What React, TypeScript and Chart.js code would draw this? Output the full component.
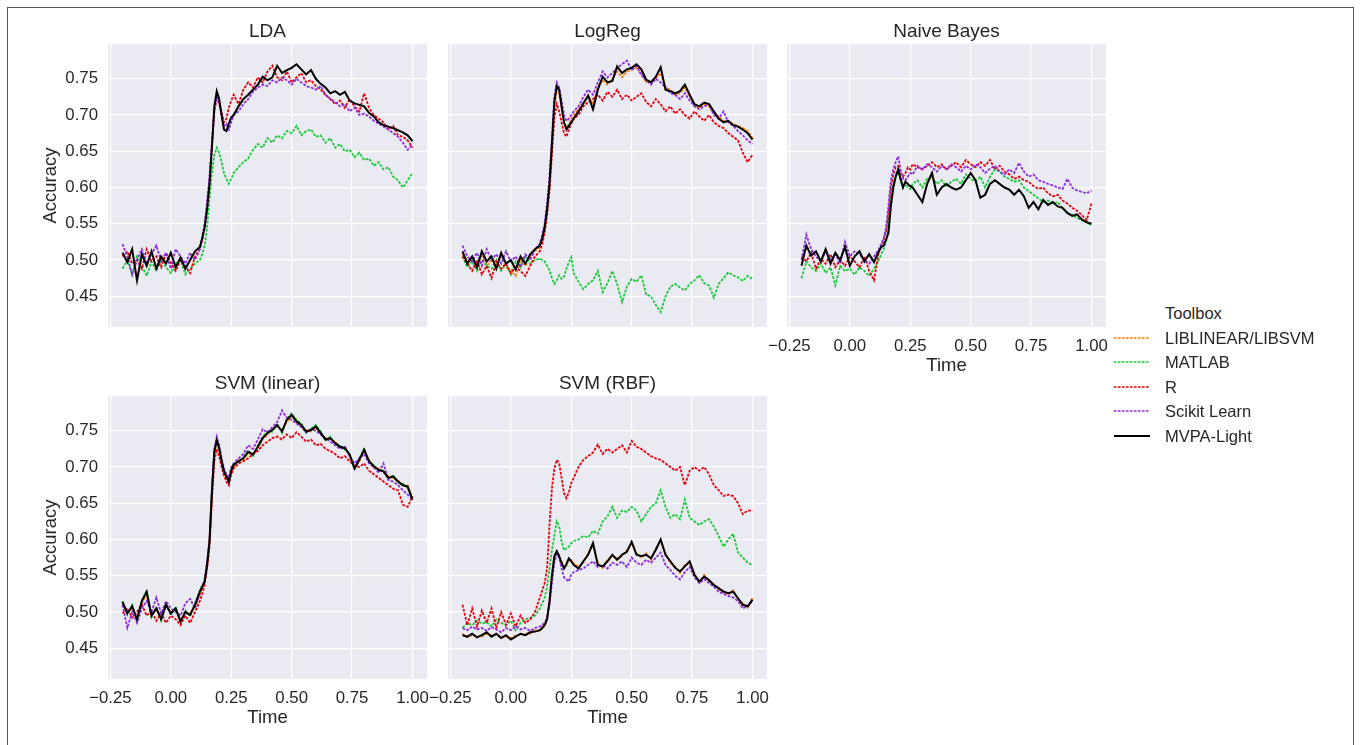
import React, { useEffect, useRef } from "react";
import { Chart, registerables } from "chart.js";
Chart.register(...registerables);

const FONT = "'Liberation Sans', Arial, Helvetica, sans-serif";
const TEXT = "#262626";

const TIME = [
  -0.2, -0.18, -0.16, -0.14, -0.12, -0.1, -0.08, -0.06, -0.04, -0.02, 0, 0.02, 0.04, 0.06, 0.08, 0.1, 0.12,
  0.13, 0.14, 0.15, 0.16, 0.17, 0.18, 0.19, 0.2, 0.21, 0.22, 0.23, 0.24, 0.25,
  0.26, 0.28, 0.3, 0.32, 0.34, 0.36, 0.38, 0.4, 0.42, 0.44, 0.46, 0.48, 0.5, 0.52, 0.54, 0.56, 0.58, 0.6,
  0.62, 0.64, 0.66, 0.68, 0.7, 0.72, 0.74, 0.76, 0.78, 0.8, 0.82, 0.84, 0.86, 0.88, 0.9, 0.92, 0.94, 0.96, 0.98, 1.0,
];

const TOOLBOXES = ["LIBLINEAR/LIBSVM", "MATLAB", "R", "Scikit Learn", "MVPA-Light"];
const COLORS = ["#ff7c00", "#1ac938", "#e8000b", "#8b2be2", "#000000"];
const X_TICKS = [-0.25, 0, 0.25, 0.5, 0.75, 1.0];
const Y_TICKS = [0.45, 0.5, 0.55, 0.6, 0.65, 0.7, 0.75];

// ---------- LDA ----------
const LDA_MATLAB = [
  0.488, 0.5, 0.48, 0.505, 0.492, 0.478, 0.498, 0.485, 0.5, 0.49, 0.482, 0.495, 0.5, 0.48, 0.488, 0.495, 0.5,
  0.508, 0.52, 0.545, 0.585, 0.62, 0.645, 0.655, 0.648, 0.635, 0.62, 0.612, 0.605, 0.612,
  0.62, 0.628, 0.635, 0.64, 0.652, 0.66, 0.655, 0.668, 0.662, 0.672, 0.668, 0.678, 0.675, 0.685, 0.672, 0.678, 0.68, 0.67, 0.672, 0.662, 0.668, 0.655, 0.66, 0.65, 0.652, 0.642, 0.648, 0.638, 0.64, 0.63, 0.635, 0.625, 0.628, 0.615, 0.61, 0.6, 0.61, 0.62,
];
const LDA_R = [
  0.505, 0.512, 0.495, 0.5, 0.488, 0.515, 0.498, 0.505, 0.49, 0.51, 0.496, 0.485, 0.5, 0.492, 0.482, 0.505, 0.515,
  0.528, 0.548, 0.575, 0.61, 0.66, 0.705, 0.725, 0.715, 0.705, 0.69, 0.695, 0.71, 0.72,
  0.728, 0.715, 0.735, 0.745, 0.738, 0.752, 0.745, 0.76, 0.768, 0.752, 0.748, 0.76, 0.745, 0.752, 0.758, 0.745, 0.748, 0.74, 0.735, 0.728, 0.722, 0.715, 0.72, 0.71, 0.722, 0.712, 0.705, 0.73, 0.71, 0.7, 0.695, 0.69, 0.68, 0.685, 0.672, 0.67, 0.665, 0.655,
];
const LDA_SKLEARN = [
  0.522, 0.505, 0.48, 0.5, 0.515, 0.495, 0.508, 0.52, 0.498, 0.51, 0.488, 0.515, 0.505, 0.495, 0.51, 0.5, 0.515,
  0.532, 0.55, 0.58, 0.615, 0.66, 0.705, 0.725, 0.718, 0.7, 0.685, 0.688, 0.68, 0.69,
  0.7, 0.705, 0.715, 0.722, 0.732, 0.738, 0.742, 0.74, 0.748, 0.745, 0.752, 0.748, 0.742, 0.75, 0.745, 0.74, 0.738, 0.735, 0.74, 0.728, 0.722, 0.718, 0.712, 0.715, 0.705, 0.71, 0.7, 0.702, 0.698, 0.692, 0.688, 0.684, 0.68, 0.675, 0.67, 0.662, 0.652, 0.66,
];
const LDA_MVPA = [
  0.51, 0.497, 0.515, 0.472, 0.508, 0.492, 0.512, 0.488, 0.505, 0.495, 0.51, 0.49, 0.503, 0.488, 0.5, 0.512, 0.518,
  0.53, 0.545, 0.57, 0.605, 0.655, 0.712, 0.733, 0.722, 0.7, 0.68, 0.678, 0.688, 0.697,
  0.7, 0.712, 0.722, 0.728, 0.735, 0.742, 0.753, 0.748, 0.752, 0.768, 0.758, 0.762, 0.765, 0.77, 0.763, 0.756, 0.762, 0.75, 0.743, 0.738, 0.73, 0.733, 0.728, 0.732, 0.72, 0.716, 0.714, 0.712, 0.703, 0.698, 0.69, 0.686, 0.684, 0.682, 0.679, 0.676, 0.672, 0.664,
];

// ---------- LogReg ----------
const LR_LIBLINEAR = [
  0.508, 0.5, 0.498, 0.495, 0.505, 0.492, 0.5, 0.495, 0.505, 0.49, 0.485, 0.478, 0.5, 0.492, 0.505, 0.512, 0.518,
  0.528, 0.542, 0.568, 0.602, 0.655, 0.712, 0.735, 0.73, 0.71, 0.69, 0.683, 0.688, 0.695,
  0.7, 0.708, 0.718, 0.725, 0.715, 0.738, 0.748, 0.742, 0.75, 0.76, 0.752, 0.76, 0.762, 0.765, 0.758, 0.745, 0.748, 0.75, 0.758, 0.738, 0.735, 0.728, 0.73, 0.738, 0.725, 0.712, 0.71, 0.714, 0.712, 0.702, 0.698, 0.692, 0.69, 0.688, 0.685, 0.682, 0.678, 0.668,
];
const LR_MATLAB = [
  0.505, 0.49, 0.498, 0.485, 0.5, 0.492, 0.488, 0.5, 0.485, 0.495, 0.48, 0.498, 0.49, 0.505, 0.495, 0.5, 0.502,
  0.5, 0.498, 0.492, 0.486, 0.475, 0.467, 0.472, 0.479, 0.474, 0.477, 0.488, 0.497, 0.504,
  0.482, 0.47, 0.46, 0.467, 0.472, 0.485, 0.456, 0.468, 0.485, 0.467, 0.442, 0.463, 0.474, 0.47, 0.479, 0.452, 0.45, 0.438, 0.428, 0.45, 0.463, 0.467, 0.462, 0.458, 0.467, 0.472, 0.479, 0.468, 0.465, 0.448, 0.467, 0.475, 0.483, 0.479, 0.476, 0.471, 0.478, 0.474,
];
const LR_R = [
  0.505, 0.495, 0.485, 0.5, 0.48, 0.492, 0.475, 0.498, 0.488, 0.495, 0.482, 0.49, 0.485, 0.478, 0.492, 0.505, 0.512,
  0.522, 0.538, 0.562, 0.595, 0.645, 0.695, 0.715, 0.705, 0.69, 0.675, 0.67, 0.68, 0.688,
  0.695, 0.7, 0.712, 0.718, 0.722, 0.728, 0.72, 0.732, 0.725, 0.735, 0.722, 0.728, 0.72, 0.725, 0.73, 0.718, 0.712, 0.722, 0.715, 0.705, 0.712, 0.702, 0.708, 0.7, 0.695, 0.705, 0.698, 0.692, 0.7, 0.69, 0.685, 0.682, 0.675, 0.67, 0.665, 0.648, 0.635, 0.645,
];
const LR_SKLEARN = [
  0.52, 0.505, 0.498, 0.51, 0.492, 0.515, 0.5, 0.508, 0.495, 0.512, 0.498, 0.505, 0.49, 0.508, 0.5, 0.515, 0.522,
  0.535, 0.55, 0.578, 0.615, 0.668, 0.725, 0.745, 0.738, 0.72, 0.7, 0.692, 0.695, 0.7,
  0.705, 0.712, 0.725, 0.735, 0.728, 0.745, 0.76, 0.752, 0.758, 0.765, 0.77, 0.775, 0.762, 0.768, 0.755, 0.748, 0.742, 0.75, 0.745, 0.738, 0.73, 0.728, 0.722, 0.73, 0.72, 0.712, 0.708, 0.712, 0.715, 0.7, 0.695, 0.705, 0.69, 0.685, 0.678, 0.672, 0.665, 0.66,
];
const LR_MVPA = [
  0.512, 0.495, 0.505, 0.49, 0.512, 0.498, 0.505, 0.488, 0.51, 0.495, 0.5, 0.487, 0.505, 0.495, 0.508, 0.515, 0.52,
  0.53, 0.545, 0.57, 0.605, 0.66, 0.718, 0.74, 0.735, 0.712, 0.69, 0.68, 0.685, 0.69,
  0.695, 0.705, 0.716, 0.727, 0.708, 0.735, 0.753, 0.745, 0.747, 0.767, 0.758, 0.763, 0.765, 0.77, 0.763, 0.749, 0.745, 0.753, 0.766, 0.735, 0.733, 0.73, 0.733, 0.742, 0.728, 0.715, 0.712, 0.717, 0.715, 0.705, 0.695, 0.69, 0.692, 0.686, 0.684, 0.68, 0.675, 0.666,
];

// ---------- Naive Bayes ----------
const NB_MATLAB = [
  0.475, 0.498, 0.49, 0.485, 0.495, 0.482, 0.49, 0.465, 0.492, 0.485, 0.488, 0.48, 0.49, 0.485, 0.478, 0.488, 0.5,
  0.508, 0.515, 0.525, 0.55, 0.585, 0.605, 0.618, 0.62, 0.61, 0.6, 0.605, 0.6, 0.598,
  0.605, 0.61, 0.6, 0.612, 0.615, 0.605, 0.61, 0.602, 0.608, 0.612, 0.605, 0.618, 0.612, 0.608, 0.615, 0.6, 0.615, 0.625, 0.622, 0.615, 0.612, 0.608, 0.61, 0.6, 0.595, 0.59, 0.585, 0.58, 0.582, 0.578, 0.58, 0.572, 0.565, 0.562, 0.558, 0.555, 0.552, 0.548,
];
const NB_R = [
  0.505, 0.498, 0.51, 0.488, 0.502, 0.495, 0.508, 0.49, 0.5, 0.492, 0.505, 0.498, 0.49, 0.505, 0.485, 0.472, 0.512,
  0.518, 0.528, 0.54, 0.565, 0.6, 0.618, 0.628, 0.63, 0.62, 0.615, 0.62, 0.628, 0.625,
  0.632, 0.628, 0.625, 0.63, 0.635, 0.628, 0.632, 0.625, 0.63, 0.635, 0.628, 0.638, 0.632, 0.628, 0.635, 0.63, 0.638, 0.625, 0.63, 0.622, 0.618, 0.612, 0.615, 0.61, 0.608, 0.602, 0.598, 0.6, 0.592, 0.588, 0.59, 0.582, 0.578, 0.572, 0.568, 0.562, 0.555, 0.578,
];
const NB_SKLEARN = [
  0.5, 0.535, 0.515, 0.505, 0.498, 0.512, 0.5, 0.508, 0.495, 0.525, 0.505, 0.512, 0.508, 0.5, 0.495, 0.505, 0.515,
  0.522, 0.53, 0.545, 0.575, 0.61, 0.625, 0.635, 0.643, 0.625, 0.612, 0.61, 0.615, 0.62,
  0.618, 0.63, 0.625, 0.632, 0.628, 0.622, 0.63, 0.625, 0.632, 0.628, 0.622, 0.63, 0.625, 0.632, 0.628, 0.62, 0.626, 0.63, 0.622, 0.618, 0.625, 0.62, 0.634, 0.622, 0.615, 0.618, 0.61, 0.608, 0.605, 0.603, 0.6, 0.598, 0.612, 0.6, 0.596, 0.594, 0.592, 0.596,
];
const NB_MVPA = [
  0.492, 0.52, 0.506, 0.512, 0.498, 0.515, 0.495, 0.51, 0.5, 0.518, 0.492, 0.505, 0.512, 0.498, 0.508, 0.497, 0.512,
  0.518, 0.52, 0.528, 0.538, 0.575, 0.6, 0.615, 0.625, 0.612, 0.6, 0.608, 0.605, 0.602,
  0.6, 0.59, 0.58, 0.605, 0.62, 0.59, 0.6, 0.605, 0.6, 0.597, 0.6, 0.61, 0.62, 0.61, 0.586, 0.59, 0.605, 0.61, 0.605, 0.6, 0.597, 0.59, 0.597, 0.588, 0.572, 0.58, 0.57, 0.583, 0.576, 0.58, 0.574, 0.572, 0.565, 0.561, 0.563, 0.556, 0.552, 0.55,
];

// ---------- SVM (linear) ----------
const SL_LIBSVM = [
  0.512, 0.5, 0.505, 0.492, 0.512, 0.525, 0.497, 0.503, 0.492, 0.508, 0.5, 0.503, 0.489, 0.498, 0.498, 0.508, 0.525,
  0.533, 0.544, 0.563, 0.6, 0.663, 0.718, 0.735, 0.724, 0.706, 0.692, 0.685, 0.682, 0.693,
  0.701, 0.71, 0.71, 0.719, 0.719, 0.726, 0.738, 0.745, 0.753, 0.756, 0.751, 0.763, 0.77, 0.761, 0.756, 0.751, 0.749, 0.754, 0.745, 0.74, 0.738, 0.735, 0.726, 0.728, 0.715, 0.7, 0.708, 0.722, 0.71, 0.699, 0.698, 0.692, 0.687, 0.685, 0.682, 0.673, 0.675, 0.657,
];
const SL_MATLAB = [
  0.515, 0.496, 0.51, 0.488, 0.516, 0.53, 0.493, 0.507, 0.488, 0.512, 0.496, 0.507, 0.485, 0.502, 0.494, 0.512, 0.53,
  0.537, 0.54, 0.567, 0.595, 0.668, 0.723, 0.739, 0.728, 0.71, 0.696, 0.689, 0.678, 0.697,
  0.705, 0.706, 0.714, 0.723, 0.715, 0.73, 0.742, 0.749, 0.749, 0.76, 0.747, 0.767, 0.774, 0.765, 0.76, 0.747, 0.753, 0.758, 0.749, 0.736, 0.742, 0.731, 0.73, 0.724, 0.719, 0.696, 0.712, 0.726, 0.706, 0.703, 0.694, 0.696, 0.683, 0.689, 0.678, 0.677, 0.671, 0.653,
];
const SL_R = [
  0.498, 0.505, 0.492, 0.5, 0.51, 0.495, 0.502, 0.488, 0.498, 0.485, 0.495, 0.49, 0.482, 0.495, 0.485, 0.5, 0.515,
  0.525, 0.538, 0.56, 0.59, 0.655, 0.708, 0.725, 0.715, 0.7, 0.688, 0.68, 0.675, 0.69,
  0.698, 0.705, 0.708, 0.712, 0.718, 0.722, 0.73, 0.735, 0.74, 0.742, 0.738, 0.745, 0.74, 0.748, 0.742, 0.735, 0.738, 0.73, 0.732, 0.725, 0.722, 0.718, 0.712, 0.715, 0.708, 0.702, 0.7, 0.705, 0.695, 0.69, 0.685, 0.68, 0.675, 0.67, 0.668, 0.648, 0.645, 0.66,
];
const SL_SKLEARN = [
  0.51, 0.478, 0.5, 0.485, 0.505, 0.515, 0.5, 0.52, 0.498, 0.515, 0.505, 0.5, 0.495, 0.512, 0.518, 0.505, 0.525,
  0.535, 0.545, 0.57, 0.6, 0.67, 0.725, 0.742, 0.73, 0.712, 0.698, 0.69, 0.685, 0.7,
  0.705, 0.712, 0.718, 0.73, 0.725, 0.738, 0.752, 0.748, 0.755, 0.762, 0.778, 0.768, 0.765, 0.76, 0.755, 0.748, 0.752, 0.75, 0.745, 0.74, 0.735, 0.73, 0.725, 0.728, 0.715, 0.705, 0.712, 0.718, 0.705, 0.7, 0.692, 0.705, 0.682, 0.68, 0.675, 0.668, 0.662, 0.655,
];
const SL_MVPA = [
  0.514, 0.498, 0.508, 0.49, 0.515, 0.528, 0.495, 0.505, 0.49, 0.51, 0.498, 0.505, 0.487, 0.5, 0.496, 0.51, 0.528,
  0.535, 0.542, 0.565, 0.597, 0.666, 0.721, 0.737, 0.726, 0.708, 0.694, 0.687, 0.68, 0.695,
  0.703, 0.708, 0.712, 0.721, 0.717, 0.728, 0.74, 0.747, 0.751, 0.758, 0.749, 0.765, 0.772, 0.763, 0.758, 0.749, 0.751, 0.756, 0.747, 0.738, 0.74, 0.733, 0.728, 0.726, 0.717, 0.698, 0.71, 0.724, 0.708, 0.701, 0.696, 0.694, 0.685, 0.687, 0.68, 0.675, 0.673, 0.655,
];

// ---------- SVM (RBF) ----------
const RB_LIBSVM = [
  0.47, 0.465, 0.468, 0.467, 0.466, 0.47, 0.468, 0.468, 0.466, 0.466, 0.464, 0.468, 0.468, 0.47, 0.47, 0.475, 0.473,
  0.48, 0.48, 0.492, 0.512, 0.552, 0.575, 0.582, 0.579, 0.566, 0.562, 0.564, 0.572, 0.572,
  0.567, 0.562, 0.568, 0.581, 0.593, 0.567, 0.561, 0.572, 0.577, 0.574, 0.577, 0.585, 0.595, 0.581, 0.575, 0.581, 0.572, 0.588, 0.598, 0.581, 0.568, 0.563, 0.554, 0.565, 0.568, 0.553, 0.54, 0.551, 0.542, 0.539, 0.531, 0.53, 0.524, 0.53, 0.517, 0.512, 0.506, 0.519,
];
const RB_MATLAB = [
  0.478, 0.485, 0.482, 0.488, 0.484, 0.486, 0.48, 0.49, 0.485, 0.482, 0.488, 0.475, 0.485, 0.49, 0.492, 0.495, 0.505,
  0.512, 0.52, 0.535, 0.56, 0.585, 0.605, 0.625, 0.618, 0.598, 0.585, 0.588, 0.59, 0.595,
  0.598, 0.6, 0.605, 0.603, 0.612, 0.608, 0.625, 0.632, 0.645, 0.63, 0.64, 0.638, 0.645, 0.64, 0.625, 0.635, 0.645, 0.65, 0.668, 0.645, 0.63, 0.635, 0.628, 0.655, 0.63, 0.625, 0.62, 0.625, 0.628, 0.618, 0.605, 0.59, 0.6, 0.608, 0.582, 0.575, 0.568, 0.565,
];
const RB_R = [
  0.51, 0.482, 0.505, 0.48, 0.502, 0.485, 0.505, 0.478, 0.5, 0.482, 0.498, 0.48, 0.495, 0.485, 0.49, 0.5, 0.52,
  0.53, 0.54, 0.56, 0.62, 0.67, 0.698, 0.71, 0.705, 0.685, 0.664, 0.657, 0.665, 0.678,
  0.685, 0.7, 0.71, 0.715, 0.72, 0.731, 0.718, 0.725, 0.72, 0.725, 0.73, 0.72, 0.736, 0.728, 0.725, 0.72, 0.715, 0.712, 0.71, 0.705, 0.7, 0.695, 0.7, 0.675, 0.695, 0.7, 0.695, 0.7, 0.69, 0.675, 0.668, 0.66, 0.662, 0.66, 0.65, 0.635, 0.64, 0.64,
];
const RB_SKLEARN = [
  0.478, 0.475, 0.48, 0.476, 0.478, 0.474, 0.479, 0.476, 0.472, 0.478, 0.475, 0.48, 0.476, 0.478, 0.474, 0.478, 0.48,
  0.482, 0.485, 0.492, 0.51, 0.54, 0.568, 0.58, 0.575, 0.56, 0.548, 0.545, 0.542, 0.552,
  0.555, 0.558, 0.56, 0.565, 0.57, 0.562, 0.565, 0.56, 0.568, 0.565, 0.57, 0.562, 0.575, 0.568, 0.565, 0.572, 0.568, 0.575, 0.582, 0.565, 0.558, 0.55, 0.545, 0.555, 0.562, 0.548, 0.54, 0.545, 0.54, 0.535, 0.528, 0.525, 0.522, 0.52, 0.515, 0.505, 0.508, 0.515,
];
const RB_MVPA = [
  0.468, 0.466, 0.47, 0.465, 0.468, 0.472, 0.466, 0.47, 0.464, 0.468, 0.462, 0.466, 0.47, 0.468, 0.472, 0.473, 0.475,
  0.478, 0.482, 0.49, 0.515, 0.55, 0.577, 0.584, 0.577, 0.568, 0.56, 0.566, 0.574, 0.57,
  0.565, 0.56, 0.57, 0.579, 0.595, 0.565, 0.563, 0.57, 0.579, 0.572, 0.579, 0.583, 0.597, 0.579, 0.577, 0.579, 0.574, 0.586, 0.6, 0.579, 0.57, 0.561, 0.556, 0.563, 0.57, 0.551, 0.542, 0.549, 0.544, 0.537, 0.533, 0.528, 0.526, 0.528, 0.519, 0.51, 0.508, 0.517,
];

const X_MIN = -0.26;
const X_MAX = 1.06;
const Y_MIN = 0.4076;
const Y_MAX = 0.798;

const PLOT_W = 319;
const PLOT_H = 283;
const LEFT_AREA = 100;
const TOP_AREA = 40;
const BOTTOM_AREA = 60;
const RIGHT_AREA = 25;
const CW = LEFT_AREA + PLOT_W + RIGHT_AREA;
const CH = TOP_AREA + PLOT_H + BOTTOM_AREA;

const bgPlugin = {
  id: "panelBg",
  beforeDraw(chart: any) {
    const { ctx, chartArea } = chart;
    if (!chartArea) return;
    ctx.save();
    ctx.fillStyle = "#eaeaf2";
    ctx.fillRect(chartArea.left, chartArea.top, chartArea.right - chartArea.left, chartArea.bottom - chartArea.top);
    ctx.restore();
  },
};

const fmtX = (v: number) => (v < 0 ? "\u2212" + Math.abs(v).toFixed(2) : v.toFixed(2));

type PanelProps = {
  title: string;
  left: number;
  top: number;
  series: (number[] | null)[];
  showX: boolean;
  showY: boolean;
};

function Panel({ title, left, top, series, showX, showY }: PanelProps) {
  const ref = useRef<HTMLCanvasElement | null>(null);
  useEffect(() => {
    if (!ref.current) return;
    const datasets: any[] = [];
    series.forEach((vals, k) => {
      if (!vals) return;
      const solid = k === 4;
      datasets.push({
        label: TOOLBOXES[k],
        data: TIME.map((t, i) => ({ x: t, y: vals[i] })),
        borderColor: COLORS[k],
        backgroundColor: COLORS[k],
        borderWidth: solid ? 2 : 1.8,
        borderDash: solid ? [] : [2.8, 1.4],
        pointRadius: 0,
        fill: false,
        tension: 0,
        order: 4 - k,
      });
    });
    const tickFont = { family: FONT, size: 16.8 };
    const labelFont = { family: FONT, size: 18.5 };
    const chart = new Chart(ref.current, {
      type: "line",
      data: { datasets },
      plugins: [bgPlugin],
      options: {
        responsive: false,
        animation: false,
        events: [],
        layout: { padding: { left: 0, right: RIGHT_AREA, top: 0, bottom: 0 } },
        plugins: {
          legend: { display: false },
          tooltip: { enabled: false },
          title: {
            display: true,
            fullSize: false,
            text: title,
            color: TEXT,
            font: { family: FONT, size: 19, weight: "normal", lineHeight: 1.2 },
            padding: { top: 16.6, bottom: 0.6 },
          },
        },
        scales: {
          x: {
            type: "linear",
            position: "bottom",
            min: X_MIN,
            max: X_MAX,
            afterBuildTicks: (ax: any) => {
              ax.ticks = X_TICKS.map((v) => ({ value: v }));
            },
            afterFit: (s: any) => {
              s.height = BOTTOM_AREA;
            },
            grid: { color: "#ffffff", lineWidth: 1.2, drawTicks: false },
            border: { display: false },
            ticks: {
              display: showX,
              color: TEXT,
              font: tickFont,
              padding: 9,
              maxRotation: 0,
              autoSkip: false,
              callback: (v: any) => fmtX(Number(v)),
            },
            title: {
              display: showX,
              text: "Time",
              color: TEXT,
              font: labelFont,
              padding: { top: 0, bottom: 9.9 },
            },
          },
          y: {
            type: "linear",
            position: "left",
            min: Y_MIN,
            max: Y_MAX,
            afterBuildTicks: (ax: any) => {
              ax.ticks = Y_TICKS.map((v) => ({ value: v }));
            },
            afterFit: (s: any) => {
              s.width = LEFT_AREA;
            },
            grid: { color: "#ffffff", lineWidth: 1.2, drawTicks: false },
            border: { display: false },
            ticks: {
              display: showY,
              color: TEXT,
              font: tickFont,
              padding: 10,
              callback: (v: any) => Number(v).toFixed(2),
            },
            title: {
              display: showY,
              text: "Accuracy",
              color: TEXT,
              font: labelFont,
              padding: { top: 31.9, bottom: 0 },
            },
          },
        },
      } as any,
    });
    return () => chart.destroy();
  }, []);
  return (
    <canvas
      ref={ref}
      width={CW}
      height={CH}
      style={{ position: "absolute", left: left - LEFT_AREA, top: top - TOP_AREA, width: CW, height: CH }}
    />
  );
}

const LEGEND_ROWS = [338, 362, 387, 411, 436];

function Legend() {
  return (
    <div style={{ position: "absolute", left: 0, top: 0 }}>
      <div
        style={{
          position: "absolute",
          left: 1165,
          top: 313 - 10,
          lineHeight: "20px",
          fontSize: 16.5,
          fontFamily: FONT,
          color: TEXT,
          whiteSpace: "nowrap",
        }}
      >
        Toolbox
      </div>
      {TOOLBOXES.map((name, k) => (
        <React.Fragment key={name}>
          <svg
            width={38}
            height={6}
            style={{ position: "absolute", left: 1113, top: LEGEND_ROWS[k] - 3 }}
          >
            <line
              x1={1}
              y1={3}
              x2={37}
              y2={3}
              stroke={COLORS[k]}
              strokeWidth={k === 4 ? 1.8 : 1.5}
              strokeDasharray={k === 4 ? undefined : "2.6 1.4"}
            />
          </svg>
          <div
            style={{
              position: "absolute",
              left: 1165,
              top: LEGEND_ROWS[k] - 10,
              lineHeight: "20px",
              fontSize: 16.5,
              fontFamily: FONT,
              color: TEXT,
              whiteSpace: "nowrap",
            }}
          >
            {name}
          </div>
        </React.Fragment>
      ))}
    </div>
  );
}

export default function App() {
  return (
    <div
      style={{
        position: "fixed",
        left: 0,
        top: 0,
        width: 1360,
        height: 745,
        overflow: "hidden",
        background: "#ffffff",
      }}
    >
      <div
        style={{
          position: "absolute",
          left: 7,
          top: 7,
          width: 1347,
          height: 760,
          border: "1.5px solid #555555",
          borderBottom: "none",
          boxSizing: "border-box",
        }}
      />
      <Panel title="LDA" left={108} top={44} series={[null, LDA_MATLAB, LDA_R, LDA_SKLEARN, LDA_MVPA]} showX={false} showY={true} />
      <Panel title="LogReg" left={448} top={44} series={[LR_LIBLINEAR, LR_MATLAB, LR_R, LR_SKLEARN, LR_MVPA]} showX={false} showY={false} />
      <Panel title="Naive Bayes" left={787} top={44} series={[null, NB_MATLAB, NB_R, NB_SKLEARN, NB_MVPA]} showX={true} showY={false} />
      <Panel title="SVM (linear)" left={108} top={396} series={[SL_LIBSVM, SL_MATLAB, SL_R, SL_SKLEARN, SL_MVPA]} showX={true} showY={true} />
      <Panel title="SVM (RBF)" left={448} top={396} series={[RB_LIBSVM, RB_MATLAB, RB_R, RB_SKLEARN, RB_MVPA]} showX={true} showY={false} />
      <Legend />
    </div>
  );
}
